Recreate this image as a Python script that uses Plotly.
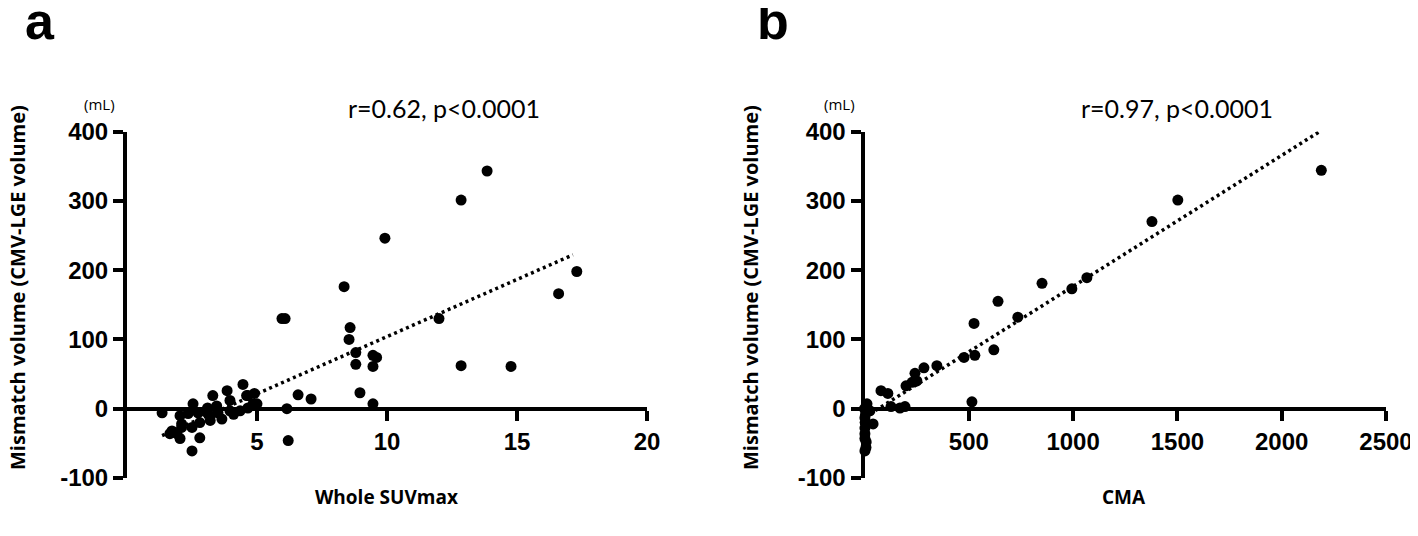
import numpy as np
import plotly.graph_objects as go

# ---------------- data ----------------
suv_x = [13.85, 12.85, 9.92, 17.3, 16.6, 12.0, 8.35, 5.96, 6.08, 8.58, 8.54, 8.8, 8.8,
         9.46, 9.6, 9.46, 12.85, 14.77, 6.58, 7.08, 8.96, 9.46, 6.15, 5.0, 6.2,
         4.46, 3.85, 3.3, 4.65, 4.9, 2.54, 3.1, 3.45, 3.96, 3.96, 4.35, 4.65, 1.35,
         2.04, 2.35, 2.73, 3.2, 3.5, 3.65, 3.2, 2.1, 2.5, 1.73, 1.92, 2.04, 1.65,
         2.8, 2.5, 2.8, 2.1, 4.85, 4.6, 4.1, 3.0]
suv_y = [343, 301, 246, 198, 166, 130, 176, 130, 130, 117, 100, 81, 64,
         77, 74, 61, 62, 61, 20, 14, 23, 7, 0, 7, -46,
         35, 26, 19, 19, 22, 7, 1, 4, 12, -3, -3, 1, -6,
         -10, -7, -6, -10, -6, -15, -17, -22, -27, -32, -36, -43, -36,
         -42, -61, -20, -27, 7, 19, -8, -4]

cma_x = [2190, 1502, 1378, 1066, 994, 851, 640, 735, 525, 477, 529, 620, 515,
         347, 285, 242, 251, 228, 199, 79, 112, 127, 170, 194,
         12, 26, 41, 2, 2, 2, 2, 7, 2, 0, 5, 3, 8]
cma_y = [344, 301, 270, 189, 173, 181, 155, 132, 123, 74, 77, 85, 10,
         62, 59, 51, 40, 38, 33, 26, 22, 3, 1, 3,
         7, -3, -22, -13, -28, -36, -43, -56, -61, 0, -8, -20, -48]

# linear fits (slope, intercept, x start, x end)
fit_a = dict(slope=16.5, intercept=-61.0, x0=1.35, x1=17.15)
fit_b = dict(slope=0.189, intercept=-12.5, x0=0.0, x1=2178.0)

y_ticks = [-100, 0, 100, 200, 300, 400]
y_ticktext = ["-100", "0", "100", "200", "300", "400"]
xa_ticks = [5, 10, 15, 20]
xb_ticks = [500, 1000, 1500, 2000, 2500]
stats_a = "r=0.62, p<0.0001"
stats_b = "r=0.97, p<0.0001"
y_title = "Mismatch volume (CMV-LGE volume)"
xa_title = "Whole SUVmax"
xb_title = "CMA"

# ---------------- layout helpers ----------------
W, H = 1418, 536
OFF = 8  # page body margin
def px(x):
    return (x - OFF) / W
def py(y):
    return 1 - (y - OFF) / H

y_range = [-100, 400]
y_dom = [py(478), py(131.5)]
zero_frac = (0 - y_range[0]) / (y_range[1] - y_range[0])
x_axis_pos = y_dom[0] + zero_frac * (y_dom[1] - y_dom[0])

fig = go.Figure()

marker = dict(color="black", size=11, line=dict(width=0))
fig.add_trace(go.Scatter(x=suv_x, y=suv_y, mode="markers", marker=marker,
                         xaxis="x", yaxis="y", cliponaxis=False, showlegend=False))
fig.add_trace(go.Scatter(x=cma_x, y=cma_y, mode="markers", marker=marker,
                         xaxis="x2", yaxis="y2", cliponaxis=False, showlegend=False))

for fit, xa, ya in [(fit_a, "x", "y"), (fit_b, "x2", "y2")]:
    xs = np.array([fit["x0"], fit["x1"]])
    ys = fit["slope"] * xs + fit["intercept"]
    fig.add_trace(go.Scatter(x=xs, y=ys, mode="lines",
                             line=dict(color="black", width=3.5, dash="3px,3.5px"),
                             xaxis=xa, yaxis=ya, cliponaxis=False, showlegend=False))

tickfont = dict(family="Liberation Sans, Arial", size=24, color="black", weight="bold")
axis_common = dict(showgrid=False, zeroline=False, showline=True, linecolor="black",
                   linewidth=4, ticks="outside", ticklen=10, tickwidth=4,
                   tickcolor="black", tickfont=tickfont, automargin=False)

fig.update_layout(
    width=W, height=H, autosize=False,
    margin=dict(l=0, r=0, t=0, b=0, pad=0, autoexpand=False),
    showlegend=False,
    plot_bgcolor="white", paper_bgcolor="white",
    xaxis=dict(domain=[px(127), px(647)], range=[0, 20], tickvals=xa_ticks,
               anchor="free", position=x_axis_pos, **axis_common),
    yaxis=dict(domain=y_dom, range=y_range, tickvals=y_ticks, ticktext=y_ticktext,
               anchor="x", **axis_common),
    xaxis2=dict(domain=[px(864.5), px(1386)], range=[0, 2500], tickvals=xb_ticks,
                anchor="free", position=x_axis_pos, **axis_common),
    yaxis2=dict(domain=y_dom, range=y_range, tickvals=y_ticks, ticktext=y_ticktext,
                anchor="x2", **axis_common),
)

ann = []
def add_text(text, x, y, size, family, weight="normal", angle=0):
    ann.append(dict(text=text, x=px(x), y=py(y), xref="paper", yref="paper",
                    showarrow=False, xanchor="center", yanchor="middle", textangle=angle,
                    font=dict(family=family, size=size, color="black", weight=weight)))

add_text("a", 40, 21, 52, "Liberation Sans, Arial", "bold")
add_text("b", 773, 21, 52, "Liberation Sans, Arial", "bold")
add_text(stats_a, 444, 108, 25, "Lato")
add_text(stats_b, 1177, 108, 25, "Lato")
add_text("(mL)", 99, 104, 15, "Open Sans")
add_text("(mL)", 839, 104, 15, "Open Sans")
add_text(y_title, 17, 288, 20, "Open Sans", "bold", -90)
add_text(y_title, 750, 288, 20, "Open Sans", "bold", -90)
add_text(xa_title, 387, 497, 19, "Open Sans", "bold")
add_text(xb_title, 1124, 497, 19, "Open Sans", "bold")
fig.update_layout(annotations=ann)

fig.write_html("out.html")
